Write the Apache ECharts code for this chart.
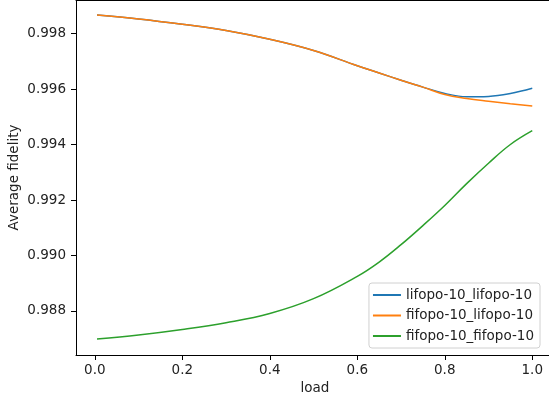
<!DOCTYPE html>
<html>
<head>
<meta charset="utf-8">
<script src="https://cdn.jsdelivr.net/npm/echarts@6/dist/echarts.min.js"></script>
<style>
  html, body { margin: 0; padding: 0; background: #fff; }
  #chart { width: 549px; height: 402px; }
</style>
</head>
<body>
<div id="chart"></div>
<script>
// values
var load = [0.005, 0.1, 0.2, 0.3, 0.4, 0.5, 0.6, 0.65, 0.7, 0.75, 0.8, 0.85, 0.9, 0.95, 1.0];
var lifoLifo = [0.998674, 0.998532, 0.998340, 0.998115, 0.997798, 0.997394, 0.996846, 0.996583,
                0.996323, 0.996074, 0.995847, 0.995725, 0.995739, 0.995843, 0.996031];
var fifoLifo = [0.998674, 0.998532, 0.998340, 0.998115, 0.997798, 0.997394, 0.996846, 0.996583,
                0.996323, 0.996074, 0.995807, 0.995663, 0.995562, 0.995472, 0.995393];
var fifoFifo = [0.986990, 0.987135, 0.987333, 0.987578, 0.987910, 0.988444, 0.989248, 0.989763,
                0.990391, 0.991080, 0.991805, 0.992594, 0.993330, 0.994004, 0.994502];
var seriesNames = ['lifopo-10_lifopo-10', 'fifopo-10_lifopo-10', 'fifopo-10_fifopo-10'];
var xTicks = [0, 0.2, 0.4, 0.6, 0.8, 1.0];
var yTicks = [0.988, 0.990, 0.992, 0.994, 0.996, 0.998];

var colors = ['#1f77b4', '#ff7f0e', '#2ca02c'];
var font = 'DejaVu Sans';
var xMin = -0.043, xMax = 1.0497;

function pairs(ys) {
  return load.map(function (x, i) { return [x, ys[i]]; });
}

var chart = echarts.init(document.getElementById('chart'));
var allSeries = [lifoLifo, fifoLifo, fifoFifo].map(function (ys, i) {
  return {
    name: seriesNames[i],
    type: 'line',
    data: pairs(ys),
    smooth: 0.4,
    showSymbol: false,
    symbol: 'none',
    lineStyle: { width: 1.5, color: colors[i] },
    itemStyle: { color: colors[i] }
  };
});

chart.setOption({
  animation: false,
  textStyle: { fontFamily: font },
  grid: {
    left: 76, right: -5, top: 0, bottom: 47,
    containLabel: false,
    outerBoundsMode: 'none'
  },
  xAxis: [{
    type: 'value',
    min: xMin, max: xMax,
    name: 'load',
    nameLocation: 'middle',
    nameGap: 26,
    nameMoveOverlap: false,
    nameTextStyle: { fontSize: 13.5, color: '#222', fontFamily: font },
    axisLine: { show: true, onZero: false, lineStyle: { color: '#000', width: 1 } },
    axisTick: { show: true, length: 5, customValues: xTicks, lineStyle: { color: '#000' } },
    axisLabel: {
      customValues: xTicks, margin: 8, fontSize: 13.5, color: '#222', fontFamily: font,
      formatter: function (v) { return v.toFixed(1); }
    },
    splitLine: { show: false }
  }, {
    // top spine only
    type: 'value',
    position: 'top',
    min: xMin, max: xMax,
    axisLine: { show: true, onZero: false, lineStyle: { color: '#000', width: 1 } },
    axisTick: { show: false },
    axisLabel: { show: false },
    splitLine: { show: false }
  }],
  yAxis: {
    type: 'value',
    min: 0.986413, max: 0.999215,
    name: 'Average fidelity',
    nameLocation: 'middle',
    nameGap: 55,
    nameMoveOverlap: false,
    nameTextStyle: { fontSize: 13.5, color: '#222', fontFamily: font },
    axisLine: { show: true, onZero: false, lineStyle: { color: '#000', width: 1 } },
    axisTick: { show: true, length: 5, customValues: yTicks, lineStyle: { color: '#000' } },
    axisLabel: {
      customValues: yTicks, margin: 10, fontSize: 13.5, color: '#222', fontFamily: font,
      formatter: function (v) { return v.toFixed(3); }
    },
    splitLine: { show: false }
  },
  legend: {
    data: seriesNames,
    orient: 'vertical',
    right: 9,
    bottom: 54,
    icon: 'rect',
    itemWidth: 28,
    itemHeight: 2,
    itemGap: 4.5,
    padding: [4, 6, 4, 4],
    backgroundColor: '#fff',
    borderColor: '#d0d0d0',
    borderWidth: 1,
    borderRadius: 3,
    textStyle: { fontSize: 13.5, color: '#222', fontFamily: font, lineHeight: 16 }
  },
  series: allSeries
});
</script>
</body>
</html>
